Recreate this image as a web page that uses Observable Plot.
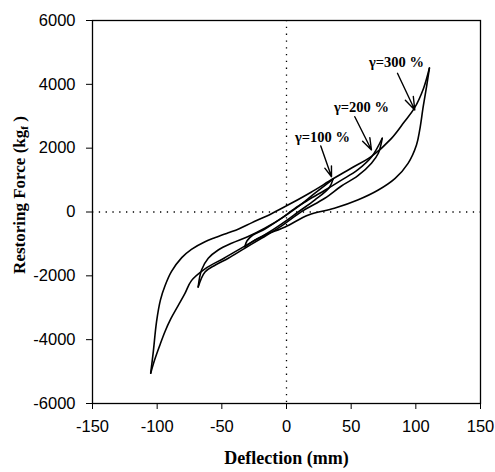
<!DOCTYPE html>
<html>
<head>
<meta charset="utf-8">
<script src="https://cdn.jsdelivr.net/npm/d3@7"></script>
<script src="https://cdn.jsdelivr.net/npm/@observablehq/plot@0.6"></script>
<style>
  html, body { margin: 0; padding: 0; background: #fff; }
  #chart { width: 495px; height: 472px; }
</style>
</head>
<body>
<div id="chart"></div>
<script>
// ---- axis ticks ----
const xTicks = [-150, -100, -50, 0, 50, 100, 150];
const yTicks = [-6000, -4000, -2000, 0, 2000, 4000, 6000];

// ---- hysteresis loops: [deflection mm, restoring force kgf] ----
// gamma = 300 %
const loop300Upper = [[-105,-5050],[-103,-4380],[-100.5,-3440],[-97.5,-2760],[-94,-2320],[-89,-1870],[-81,-1430],[-73.5,-1170],[-63,-930],[-55,-800],[-45,-650],[-37,-530],[-27,-340],[-12,-60],[4,280],[19,620],[36,1040],[50,1370],[66,1750],[81,2300],[91,2820],[99,3260],[106,3880],[110.5,4510]];
const loop300Lower = [[110.5,4510],[108.3,3930],[105.7,3300],[103,2570],[100.5,2100],[94,1525],[84,1055],[71,690],[55,376],[37,116],[17,-94],[-1,-470],[-17,-730],[-32,-1060],[-48,-1440],[-63,-1780],[-73.5,-2150],[-78.5,-2550],[-84,-2950],[-89.5,-3350],[-94,-3750],[-98,-4180],[-102,-4640],[-105,-5050]];
// gamma = 200 %
const loop200Upper = [[-68.3,-2350],[-65.7,-1820],[-60.5,-1450],[-52.8,-1190],[-42.5,-980],[-29.6,-770],[-16.8,-510],[-4,-200],[6,100],[17,380],[30,690],[42.5,1000],[55,1320],[66,1740],[74,2310]];
const loop200Lower = [[74,2310],[71,1840],[65.7,1530],[55,1130],[42.5,815],[29.6,430],[11.6,10],[-4,-440],[-19,-815],[-32,-1130],[-45,-1450],[-55,-1660],[-63,-1880],[-68.3,-2350]];
// gamma = 100 %
const loop100Upper = [[-32.2,-1090],[-30.5,-900],[-26,-720],[-17,-540],[-4,-200],[9,170],[22,590],[36,1030]];
const loop100Lower = [[36,1030],[33,760],[22,380],[9,0],[-4,-380],[-17,-720],[-26,-920],[-32.2,-1090]];

// ---- annotations ----
const labelTexts = ["γ=100 %", "γ=200 %", "γ=300 %"];
const labelPos = [[27.8, 2330], [58, 3270], [85, 4680]];
const arrowFrom = [[26.5, 2068], [52.8, 2986], [85.8, 4346]];
const arrowTo = [[34.8, 1106], [65.7, 1943], [99.2, 3196]];

// ---- build tables ----
const branches = [
  ["300u", loop300Upper], ["300l", loop300Lower],
  ["200u", loop200Upper], ["200l", loop200Lower],
  ["100u", loop100Upper], ["100l", loop100Lower]
];
const lineData = branches.flatMap(([id, pts]) => pts.map(([x, y]) => ({id, x, y})));
const labels = labelTexts.map((t, i) => ({text: t, x: labelPos[i][0], y: labelPos[i][1]}));
const arrows = arrowFrom.map((a, i) => ({x1: a[0], y1: a[1], x2: arrowTo[i][0], y2: arrowTo[i][1]}));

const serif = "'Liberation Serif', 'Times New Roman', serif";

const plot = Plot.plot({
  width: 495,
  height: 472,
  marginLeft: 92,
  marginRight: 15,
  marginTop: 20,
  marginBottom: 69,
  style: {fontFamily: "'Liberation Sans', Arial, sans-serif", fontSize: "16.5px", color: "black", background: "white"},
  x: {domain: [-150, 150], ticks: xTicks, tickSize: 6, tickPadding: 11, tickFormat: d => String(d), label: null},
  y: {domain: [-6000, 6000], ticks: yTicks, tickSize: 6, tickPadding: 11, tickFormat: d => String(d), label: null},
  marks: [
    Plot.ruleX([0], {stroke: "black", strokeWidth: 1.3, strokeDasharray: "1.3,5.5"}),
    Plot.ruleY([0], {stroke: "black", strokeWidth: 1.3, strokeDasharray: "1.3,5.5"}),
    Plot.line(lineData, {x: "x", y: "y", z: "id", stroke: "black", strokeWidth: 1.6, curve: "catmull-rom"}),
    Plot.arrow(arrows, {x1: "x1", y1: "y1", x2: "x2", y2: "y2", stroke: "black", strokeWidth: 1.4, headLength: 18, headAngle: 38, inset: 0}),
    Plot.text(labels, {x: "x", y: "y", text: "text", fontFamily: serif, fontWeight: "bold", fontSize: 14.5, fill: "black"}),
    Plot.text(["Deflection (mm)"], {frameAnchor: "bottom", dy: 60, fontFamily: serif, fontWeight: "bold", fontSize: 18, fill: "black"}),
    Plot.frame({stroke: "black", strokeWidth: 1.3})
  ]
});

const svg = d3.select(plot);
const yt = svg.append("text")
  .attr("transform", "translate(25,195) rotate(-90)")
  .attr("text-anchor", "middle")
  .attr("font-family", serif)
  .attr("font-weight", "bold")
  .attr("font-size", 17)
  .attr("fill", "black");
yt.append("tspan").text("Restoring Force (kg");
yt.append("tspan").attr("font-size", 11).attr("dy", 3).text("f");
yt.append("tspan").attr("dy", -3).text(" )");

document.getElementById("chart").appendChild(plot);
</script>
</body>
</html>
